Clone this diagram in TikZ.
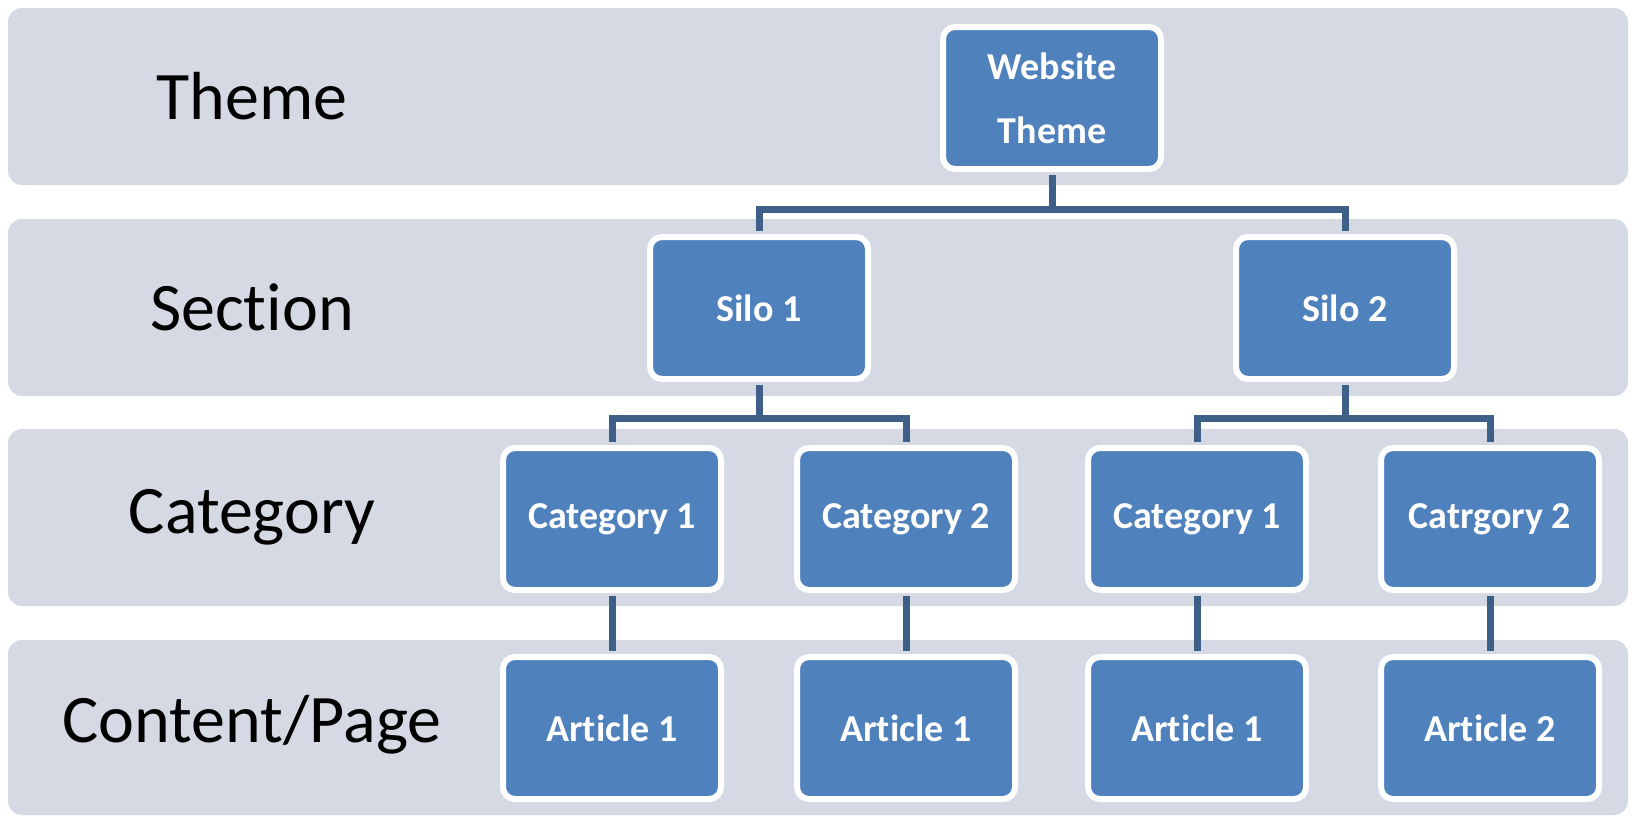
\documentclass[tikz,border=0pt]{standalone}
\usepackage{fontspec}
\setmainfont[Ligatures=NoCommon]{Carlito}
\usetikzlibrary{positioning}
\definecolor{bandgray}{HTML}{D5D9E4}
\definecolor{boxblue}{HTML}{4F81BD}
\definecolor{linkblue}{HTML}{3E5F87}

\tikzset{
  band/.style={fill=bandgray, rounded corners=14pt},
  level/.style={font=\fontsize{68}{80}\selectfont, text=black},
  item/.style={draw=white, line width=6pt, fill=boxblue, rounded corners=12pt,
    minimum width=218pt, minimum height=142pt, text=white,
    font=\bfseries\fontsize{38}{64}\selectfont, align=center},
  link/.style={draw=linkblue, line width=7pt, shorten <=3pt, shorten >=3pt}
}

\begin{document}
\begin{tikzpicture}[x=1pt, y=-1pt]
  \useasboundingbox (0,0) rectangle (1632,819);
  % level bands
  \fill[band] (8,8) rectangle (1628,185);
  \fill[band] (8,219) rectangle (1628,396);
  \fill[band] (8,429) rectangle (1628,606);
  \fill[band] (8,640) rectangle (1628,815);

  \node[level] (lvtheme) at (252,96) {Theme};
  \node[level] (lvsection) at (252,307) {Section};
  \node[level] (lvcat) at (252,517) {Category};
  \node[level] (lvpage) at (252,725) {Content/Page};

  % hierarchy
  \node[item] (web) at (1052,98) {Website\\Theme};
  \node[item] (silo1) at (759,308) {Silo 1};
  \node[item] (silo2) at (1345,308) {Silo 2};
  \node[item] (cat11) at (612,519) {Category 1};
  \node[item] (cat12) at (906,519) {Category 2};
  \node[item] (cat21) at (1197,519) {Category 1};
  \node[item] (cat22) at (1490,519) {Catrgory 2};
  \node[item] (art11) at (612,728) {Article 1};
  \node[item] (art12) at (906,728) {Article 1};
  \node[item] (art21) at (1197,728) {Article 1};
  \node[item] (art22) at (1490,728) {Article 2};

  \draw[link] (web.south) -- ++(0,37) -| (silo1.north);
  \draw[link] (web.south) -- ++(0,37) -| (silo2.north);
  \draw[link] (silo1.south) -- ++(0,36) -| (cat11.north);
  \draw[link] (silo1.south) -- ++(0,36) -| (cat12.north);
  \draw[link] (silo2.south) -- ++(0,36) -| (cat21.north);
  \draw[link] (silo2.south) -- ++(0,36) -| (cat22.north);
  \draw[link] (cat11) -- (art11);
  \draw[link] (cat12) -- (art12);
  \draw[link] (cat21) -- (art21);
  \draw[link] (cat22) -- (art22);
\end{tikzpicture}
\end{document}
